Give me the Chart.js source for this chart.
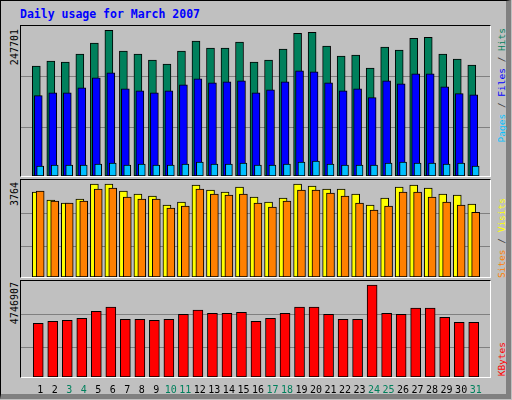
<!DOCTYPE html>
<html>
<head>
<meta charset="utf-8">
<script src="https://cdn.jsdelivr.net/npm/chart.js@4.4.0/dist/chart.umd.min.js"></script>
<style>
  body { margin: 0; width: 512px; height: 400px; background: #c0c0c0; position: relative; overflow: hidden; font-family: "DejaVu Sans Mono", monospace; }
  .frame { position: absolute; left: 0; top: 0; width: 505px; height: 393px; border: 1px solid #000; border-right: 5px solid #808080; border-bottom: 5px solid #808080; }
  .panel { position: absolute; left: 20px; width: 469px; border-top: 1px solid #000; border-left: 1px solid #000; border-right: 1px solid #fff; border-bottom: 1px solid #fff; }
  canvas { position: absolute; }
  .title { position: absolute; left: 20px; top: 7px; color: #0000ff; font-weight: bold; font-size: 11.5px; }
  .vt { position: absolute; writing-mode: vertical-rl; transform: rotate(180deg); white-space: nowrap; }
  .left { left: 9px; font-size: 10px; color: #000; }
  .right { left: 496px; font-size: 9.5px; color: #404040; }
</style>
</head>
<body>
<div class="frame"></div>
<div class="title">Daily usage for March 2007</div>
<div class="panel" style="top:25px;height:150px"></div>
<div class="panel" style="top:179px;height:97px"></div>
<div class="panel" style="top:280px;height:96px"></div>
<canvas id="c1" width="469" height="150" style="left:21px;top:26px"></canvas>
<canvas id="c2" width="469" height="97" style="left:21px;top:180px"></canvas>
<canvas id="c3" width="469" height="120" style="left:21px;top:281px"></canvas>

<div class="vt left" style="top:29px">247701</div>
<div class="vt left" style="top:182px">3764</div>
<div class="vt left" style="top:282px">4746907</div>
<div class="vt right" style="top:28px"><span style="color:#00c0ff">Pages</span> / <span style="color:#0000ff">Files</span> / <span style="color:#00805c">Hits</span></div>
<div class="vt right" style="top:198px"><span style="color:#ff8000">Sites</span> / <span style="color:#ffff00">Visits</span></div>
<div class="vt right" style="top:342px"><span style="color:#ff0000">KBytes</span></div>

<script>
const days = [1,2,3,4,5,6,7,8,9,10,11,12,13,14,15,16,17,18,19,20,21,22,23,24,25,26,27,28,29,30,31];
const weekend = [3,4,10,11,17,18,24,25,31];

// valeurs
const hits = [181700,189900,188200,201300,219300,240600,206200,201300,191500,185000,206200,222600,211100,211100,221000,188200,191500,209500,235700,237300,214400,198100,199700,178400,212800,207900,227500,229100,201300,193100,183300];
const files = [132600,137500,137500,145700,162000,170200,144000,140800,137500,140800,150600,160400,153900,155500,157100,137500,142400,155500,173500,171900,153900,140800,144000,129300,157100,152200,168600,168600,147300,135900,134200];
const pages = [16400,18000,18000,18000,19600,21300,18000,19600,18000,18000,19600,22900,19600,19600,21300,18000,18000,19600,22900,24600,19600,18000,18000,18000,21300,22900,21300,21300,19600,21300,16400];
const visits = [3295,2983,2865,3022,3608,3608,3334,3217,3139,2787,2904,3569,3373,3295,3490,3100,2904,3061,3608,3530,3412,3412,3217,2787,3061,3490,3569,3451,3217,3178,2826];
const sites = [3334,2943,2865,2943,3412,3451,3100,3022,3022,2670,2748,3412,3217,3178,3217,2865,2709,2943,3373,3373,3256,3139,2865,2592,2748,3295,3295,3100,2904,2787,2514];
const kbytes = [2656000,2755000,2805000,2905000,3253000,3452000,2855000,2855000,2805000,2855000,3104000,3303000,3154000,3154000,3203000,2755000,2905000,3154000,3452000,3452000,3104000,2855000,2855000,4548000,3154000,3104000,3403000,3403000,2954000,2705000,2705000];

const maxHits = 247701, maxVisits = 3764, maxKB = 4746907;

function pts(vals, off) {
  return vals.map((v, i) => ({ x: days[i] + off, y: v }));
}
function ds(vals, off, color, w, order) {
  return { data: pts(vals, off), backgroundColor: color, borderColor: '#000', borderWidth: 1, borderSkipped: false, barThickness: w, order: order, grouped: false };
}

function makeChart(id, datasets, max, fr, showX) {
  return new Chart(document.getElementById(id), {
    type: 'bar',
    data: { datasets: datasets },
    options: {
      responsive: false, animation: false, devicePixelRatio: 1,
      layout: { padding: 0 },
      plugins: { legend: { display: false }, tooltip: { enabled: false } },
      scales: {
        x: {
          type: 'linear', min: 0.2, max: 31.467, display: showX,
          afterFit: s => { s.height = showX ? 24 : 0; },
          afterBuildTicks: s => { s.ticks = days.map(d => ({ value: d })); },
          grid: { display: false, drawTicks: false }, border: { display: false },
          ticks: {
            padding: 7, autoSkip: false, maxRotation: 0,
            font: { family: 'DejaVu Sans Mono', size: 10 },
            color: c => weekend.includes(c.tick.value) ? '#00805c' : '#000'
          }
        },
        y: {
          min: 0, max: max,
          afterFit: s => { s.width = 0; },
          afterBuildTicks: s => { s.ticks = fr.map(f => ({ value: max * f })); },
          ticks: { display: false },
          grid: { color: '#808080', drawTicks: false },
          border: { display: false }
        }
      }
    }
  });
}

makeChart('c1', [
  ds(pages, 0, '#00c0ff', 7, 0),
  ds(files, -0.133, '#0000ff', 8, 1),
  ds(hits, -0.267, '#00805c', 8, 2)
], maxHits, [0.324, 0.661], false);

makeChart('c2', [
  ds(sites, 0, '#ff8000', 8, 0),
  ds(visits, -0.267, '#ffff00', 8, 1)
], maxVisits, [0.315, 0.657], false);

makeChart('c3', [
  ds(kbytes, -0.133, '#ff0000', 10, 0)
], maxKB, [0.308, 0.654], true);
</script>
</body>
</html>
